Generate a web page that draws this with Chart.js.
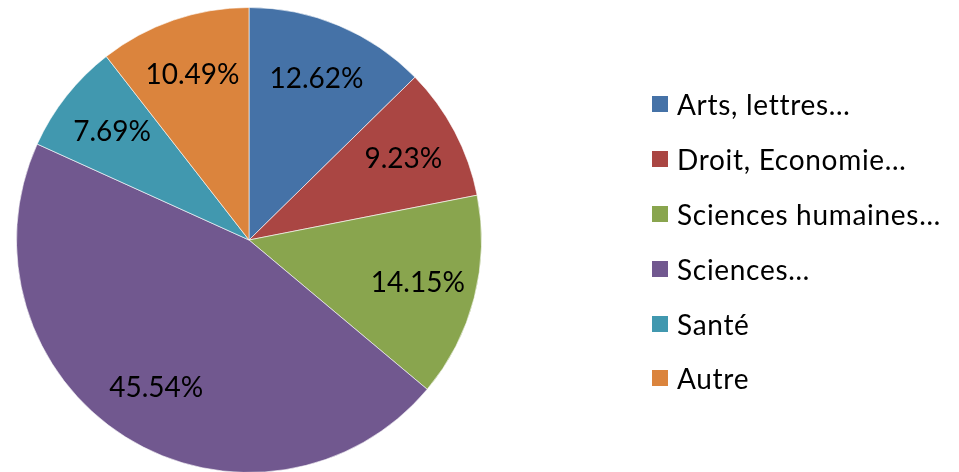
<!DOCTYPE html>
<html>
<head>
<meta charset="utf-8">
<script src="https://cdn.jsdelivr.net/npm/chart.js@4/dist/chart.umd.min.js"></script>
<style>
  html, body { margin: 0; padding: 0; background: #fff; overflow: hidden; }
  #wrap { position: absolute; left: 0; top: 0; width: 959px; height: 480px; }
  #legend { position: absolute; left: 652px; top: 77px; font-family: Lato, sans-serif; font-size: 28px; letter-spacing: 0.7px; color: #000; }
  .item { height: 54.8px; display: flex; align-items: center; white-space: nowrap; }
  .box { width: 16px; height: 16px; margin-right: 9px; flex: none; }
</style>
</head>
<body>
<div id="wrap"><canvas id="pie-chart"></canvas></div>
<div id="legend"></div>
<script>
// répartition par filière

const categories = ['Arts, lettres…', 'Droit, Economie…', 'Sciences humaines…', 'Sciences…', 'Santé', 'Autre'];
const shares = [12.62, 9.23, 14.15, 45.54, 7.69, 10.49];
const colors = ['#4572A7', '#AA4643', '#89A54E', '#71588F', '#4198AF', '#DB843D'];

// étiquettes dans les parts
const sliceLabels = {
  id: 'sliceLabels',
  afterDatasetsDraw(chart) {
    const ctx = chart.ctx;
    const meta = chart.getDatasetMeta(0);
    ctx.save();
    ctx.font = '28px Lato, sans-serif';
    ctx.fillStyle = '#000';
    ctx.textAlign = 'center';
    ctx.textBaseline = 'middle';
    meta.data.forEach((arc, i) => {
      const mid = (arc.startAngle + arc.endAngle) / 2;
      const r = arc.outerRadius * 0.75;
      const x = arc.x + Math.cos(mid) * r;
      const y = arc.y + Math.sin(mid) * r;
      ctx.fillText(shares[i].toFixed(2) + '%', x, y);
    });
    ctx.restore();
  }
};

const ctx = document.getElementById('pie-chart').getContext('2d');

new Chart(ctx, {
  type: 'pie',
  data: {
    labels: categories,
    datasets: [
      {
        data: shares,
        backgroundColor: colors,
        borderColor: 'rgba(255, 255, 255, 0.6)',
        borderWidth: 1
      }
    ]
  },
  options: {
    responsive: true,
    maintainAspectRatio: false,
    animation: false,
    layout: {
      padding: { left: 16, top: 7, right: 477, bottom: 7 }
    },
    plugins: {
      legend: { display: false },
      tooltip: { enabled: false }
    }
  },
  plugins: [sliceLabels]
});

document.getElementById('legend').innerHTML = categories.map((c, i) => `
  <div class="item"><span class="box" style="background: ${colors[i]};"></span>${c}</div>
`).join('');
</script>
</body>
</html>
